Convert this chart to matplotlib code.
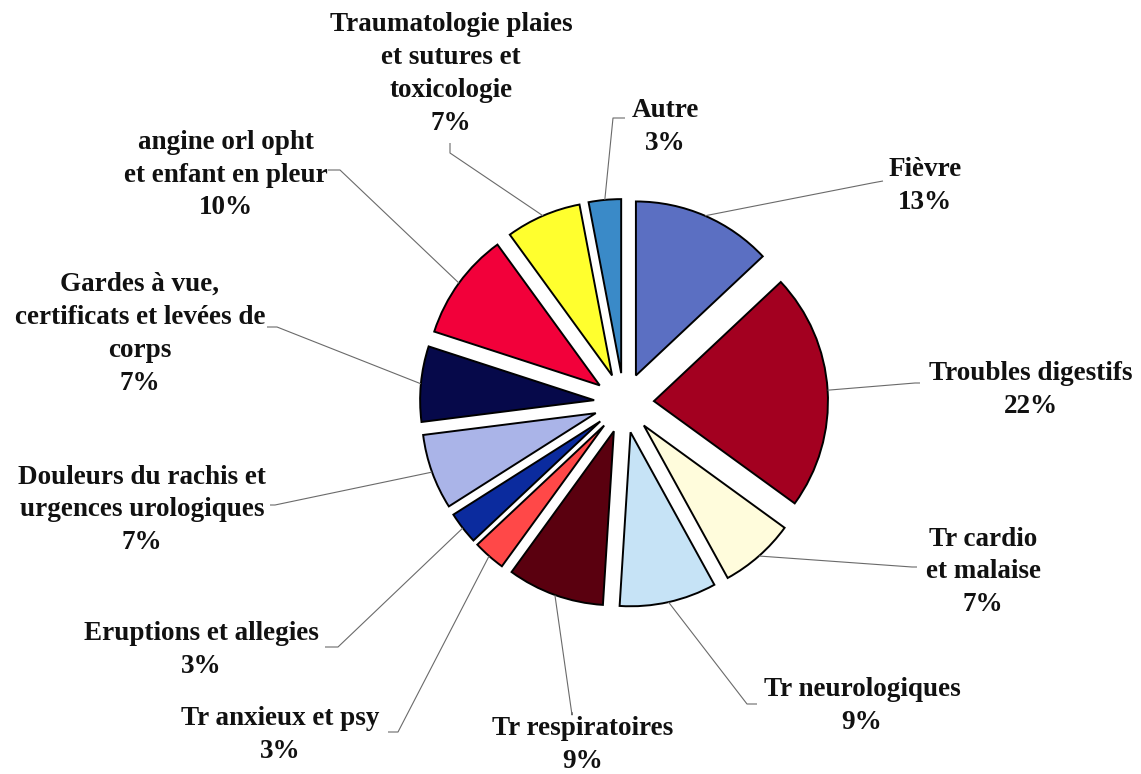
import numpy as np
import matplotlib
matplotlib.use("Agg")
import matplotlib.pyplot as plt

# ---- data ----
categories = [
    "Fièvre",
    "Troubles digestifs",
    "Tr cardio\net malaise",
    "Tr neurologiques",
    "Tr respiratoires",
    "Tr anxieux et psy",
    "Eruptions et allegies",
    "Douleurs du rachis et\nurgences urologiques",
    "Gardes à vue,\ncertificats et levées de\ncorps",
    "angine orl opht\net enfant en pleur",
    "Traumatologie plaies\net sutures et\ntoxicologie",
    "Autre",
]
values = [13, 22, 7, 9, 9, 3, 3, 7, 7, 10, 7, 3]
colors = ["#5b6fc2", "#a30020", "#fffcdc", "#c6e3f6", "#5a000f", "#ff4848",
          "#0b2b9e", "#aab4e8", "#06094a", "#f2003a", "#ffff2e", "#3a8ac8"]

# ---- layout (pixel coords, y from top) ----
W, H = 1141, 774
CX, CY, R, EXPL = 624, 403, 174, 30
label_pos = [(925, 186), (1031, 390), (983, 572), (862, 706), (583, 745),
             (280, 735), (201, 650), (142, 510), (140, 334), (226, 175),
             (451, 74), (665, 127)]
elbows = [(872, 183), (915, 383), (912, 567), (747, 704), (572, 715),
          (398, 732), (338, 647), (275, 505), (277, 327), (340, 170),
          (450, 153), (613, 118)]
ends = [(883, 181), (920, 383), (917, 567), (757, 704), (572, 712),
        (388, 732), (325, 647), (270, 505), (267, 327), (328, 170),
        (450, 143), (625, 118)]

fig = plt.figure(figsize=(W / 100, H / 100), dpi=100)
ax = fig.add_axes([0, 0, 1, 1])

wedges, _ = ax.pie(values, colors=colors, startangle=90, counterclock=False,
                   explode=[EXPL] * len(values), center=(CX, H - CY), radius=R,
                   wedgeprops=dict(edgecolor="black", linewidth=1.4))
ax.set_xlim(0, W)
ax.set_ylim(0, H)
ax.set_aspect("equal")
ax.axis("off")

font = dict(family="Liberation Serif", weight="bold", size=19.5)
for w, cat, v, lp, el, en in zip(wedges, categories, values, label_pos, elbows, ends):
    th = np.deg2rad((w.theta1 + w.theta2) / 2)
    cx, cy = w.center
    sx, sy = cx + R * np.cos(th), cy + R * np.sin(th)
    ax.plot([sx, el[0], en[0]], [sy, H - el[1], H - en[1]],
            color="#6a6a6a", lw=0.8, solid_capstyle="butt")
    ax.text(lp[0], H - lp[1], f"{cat}\n{v}%", ha="center", va="center",
            linespacing=1.42, color="#111111", **font)

fig.savefig("out.png", dpi=100)
